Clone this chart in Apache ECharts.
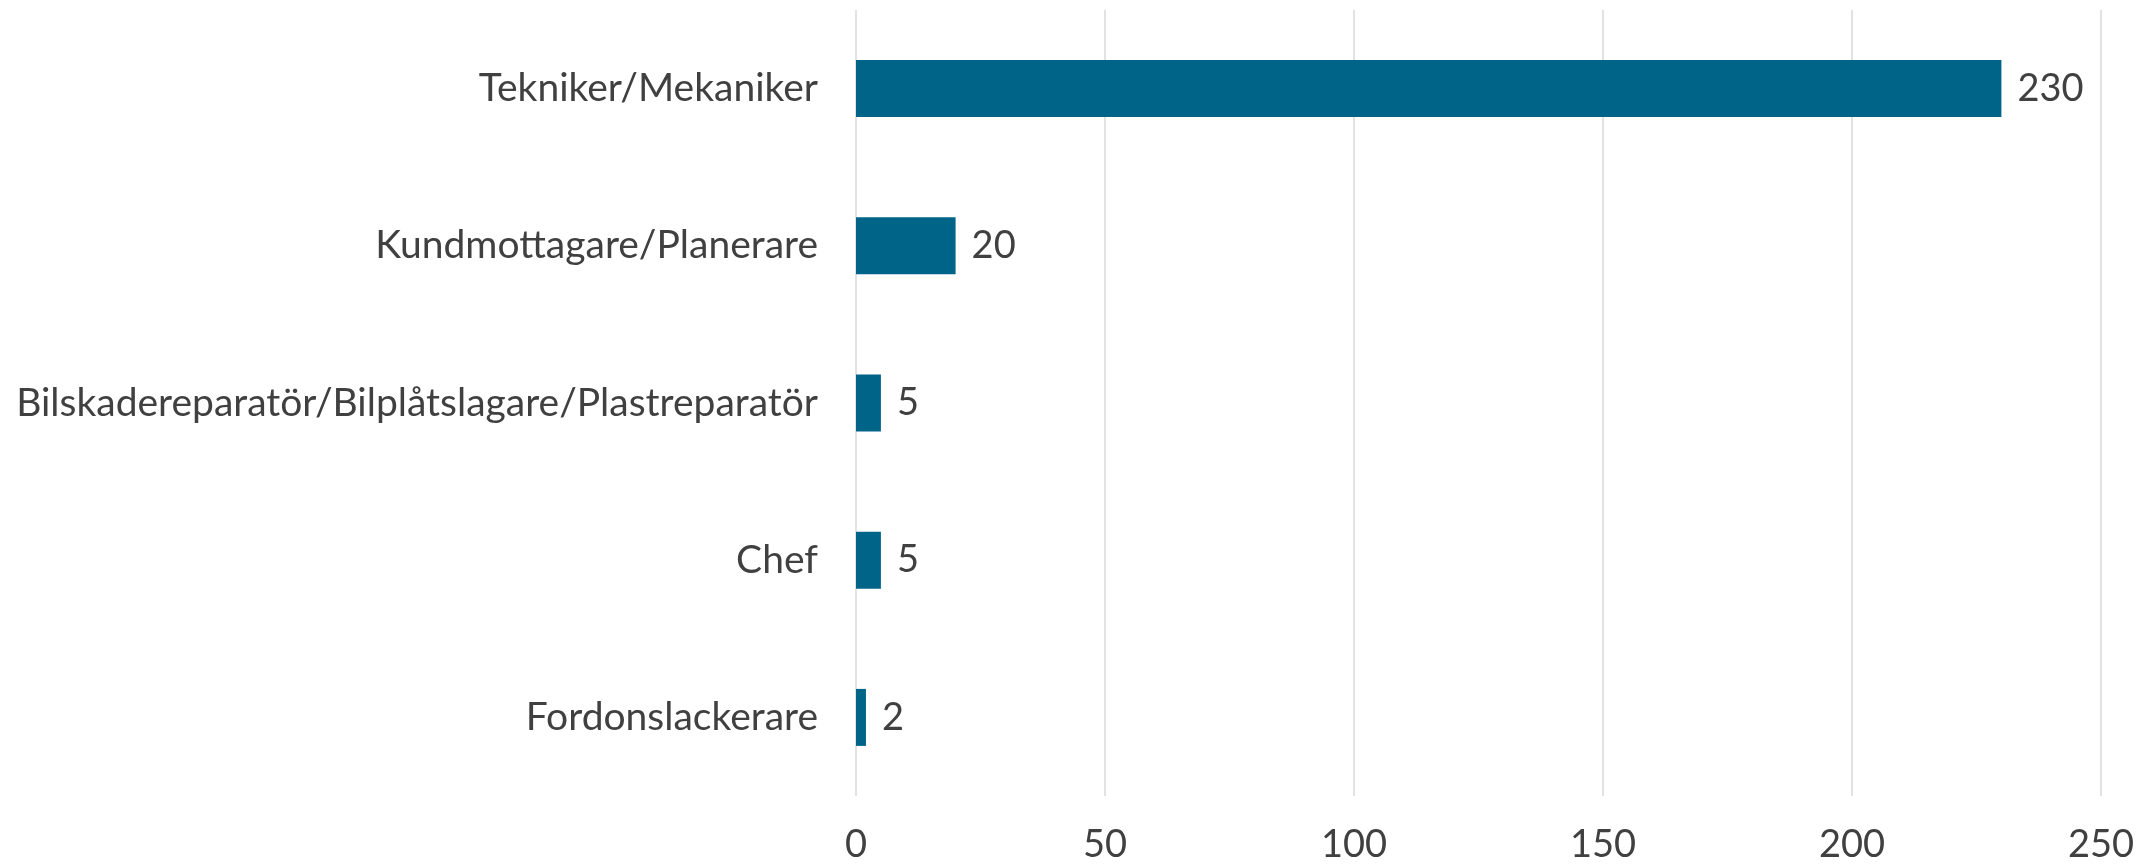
<!DOCTYPE html>
<html>
<head>
<meta charset="utf-8">
<script src="https://cdn.jsdelivr.net/npm/echarts@6/dist/echarts.min.js"></script>
<style>
  html, body {margin: 0; padding: 0; background: #fff;}
  #chart {width: 2149px; height: 866px;}
</style>
</head>
<body>
<div id="chart"></div>
<script>
var categories = ['Tekniker/Mekaniker', 'Kundmottagare/Planerare', 'Bilskadereparatör/Bilplåtslagare/Plastreparatör', 'Chef', 'Fordonslackerare'];
var values = [230, 20, 5, 5, 2];
var xTicks = {min: 0, max: 250, interval: 50};

var myChart = echarts.init(document.getElementById('chart'));

var option = {
    animation: false,
    textStyle: {fontFamily: 'Lato'},
    grid: {
        left: 856,
        right: 48,
        top: 10,
        bottom: 70,
        containLabel: false
    },
    xAxis: {
        type: 'value',
        min: xTicks.min,
        max: xTicks.max,
        interval: xTicks.interval,
        axisLine: {show: false},
        axisTick: {show: false},
        splitLine: {lineStyle: {color: '#d9d9d9', width: 1.5}},
        axisLabel: {margin: 30, fontSize: 38, color: '#404040', fontFamily: 'Lato'}
    },
    yAxis: {
        type: 'category',
        inverse: true,
        data: categories,
        axisLine: {show: false},
        axisTick: {show: false},
        axisLabel: {margin: 38, fontSize: 39, color: '#404040', fontFamily: 'Lato'}
    },
    series: [{
        type: 'bar',
        data: values,
        barWidth: 57,
        itemStyle: {color: '#006489'},
        label: {
            show: true,
            position: 'right',
            distance: 16,
            fontSize: 38,
            color: '#404040',
            fontFamily: 'Lato'
        }
    }]
};

myChart.setOption(option);
</script>
</body>
</html>
